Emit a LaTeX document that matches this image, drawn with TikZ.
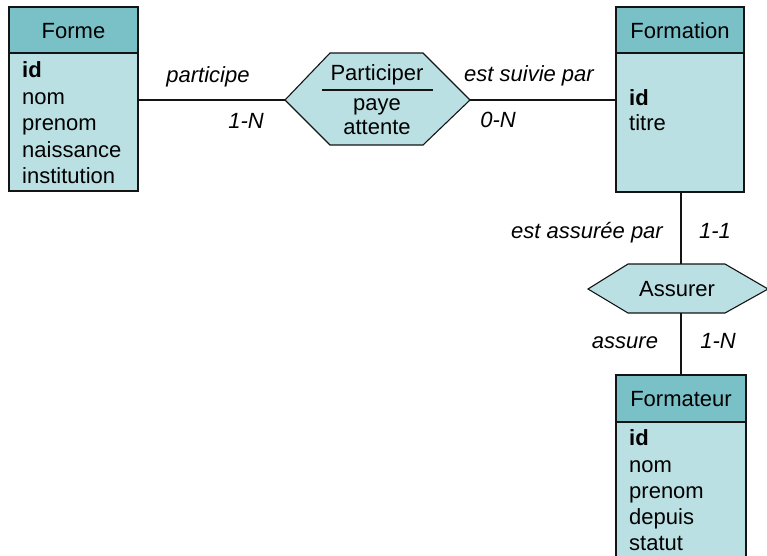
\documentclass[tikz,border=0pt]{standalone}
\usepackage{fontspec}
\setmainfont{Liberation Sans}
\definecolor{headc}{RGB}{122,193,199}
\definecolor{bodyc}{RGB}{187,224,227}
\definecolor{linec}{RGB}{20,20,20}
\begin{document}
\begin{tikzpicture}[x=1pt,y=-1pt,
  every node/.style={font=\fontsize{22}{26}\selectfont, inner sep=0pt, text height=16pt, text depth=5pt},
  box/.style={draw=linec, line width=1.1pt, fill=bodyc},
  head/.style={draw=linec, line width=1.1pt, fill=headc},
  attr/.style={anchor=west, align=left},
  lbl/.style={font=\fontsize{22}{26}\selectfont\itshape},
  conn/.style={draw=linec, line width=1.1pt}]
\useasboundingbox (0,0) rectangle (767,555);

% Forme
\filldraw[box] (9,7) rectangle (138,191);
\filldraw[head] (9,7) rectangle (138,53);
\node at (73.5,33) {Forme};
\node[attr] at (22,72) {\bfseries id};
\node[attr] at (22,99) {nom};
\node[attr] at (22,125) {prenom};
\node[attr] at (22,152) {naissance};
\node[attr] at (22,178) {institution};
\coordinate (formeE) at (138,100);

% Formation
\filldraw[box] (616,7) rectangle (744,192);
\filldraw[head] (616,7) rectangle (744,53);
\node at (680,33) {Formation};
\node[attr] at (629,100) {\bfseries id};
\node[attr] at (629,125) {titre};
\coordinate (formationW) at (616,100);
\coordinate (formationS) at (681,192);

% Formateur
\filldraw[box] (616,375) rectangle (746,575);
\filldraw[head] (616,375) rectangle (746,422);
\node at (681,401) {Formateur};
\node[attr] at (629,440) {\bfseries id};
\node[attr] at (629,467) {nom};
\node[attr] at (629,493) {prenom};
\node[attr] at (629,519) {depuis};
\node[attr] at (629,545) {statut};
\coordinate (formateurN) at (681,375);

% Participer
\filldraw[box] (285,100) -- (330,53) -- (423,53) -- (470,100) -- (423,145) -- (330,145) -- cycle;
\draw[conn] (322,90) -- (433,90);
\node at (377,75) {Participer};
\node at (377,105) {paye};
\node at (377,129) {attente};
\coordinate (partW) at (285,100);
\coordinate (partE) at (470,100);

% Assurer
\filldraw[box] (588,289) -- (628,264) -- (725,264) -- (768,289) -- (725,313) -- (628,313) -- cycle;
\node at (677,291) {Assurer};
\coordinate (assN) at (681,264);
\coordinate (assS) at (681,313);

% connectors
\draw[conn] (formeE) -- (partW);
\draw[conn] (partE) -- (formationW);
\draw[conn] (formationS) -- (assN);
\draw[conn] (assS) -- (formateurN);

% labels
\node[lbl] at (208,77) {participe};
\node[lbl] at (246,123) {1-N};
\node[lbl] at (529,76) {est suivie par};
\node[lbl] at (498,122) {0-N};
\node[lbl] at (587,233) {est assurée par};
\node[lbl] at (715,233) {1-1};
\node[lbl] at (625,343) {assure};
\node[lbl] at (718,343) {1-N};
\end{tikzpicture}
\end{document}
